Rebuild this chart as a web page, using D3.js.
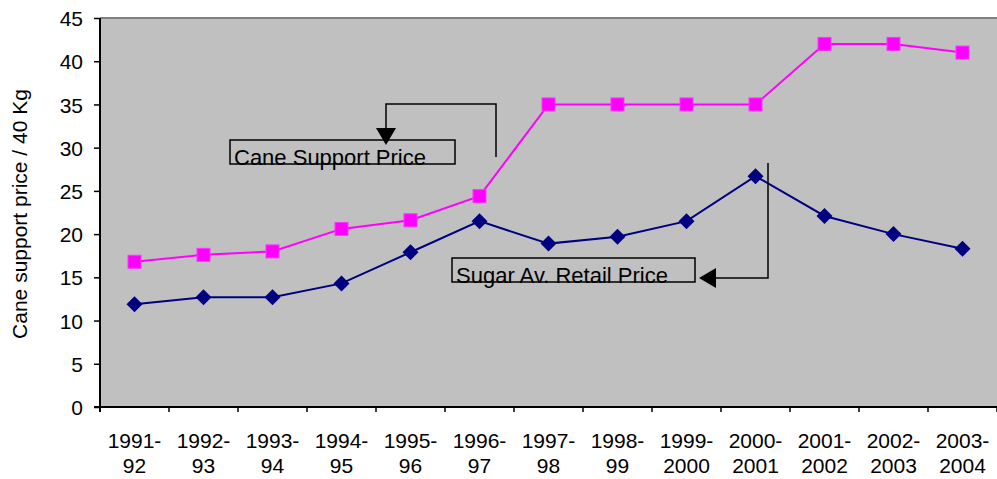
<!DOCTYPE html>
<html><head><meta charset="utf-8">
<script src="https://cdn.jsdelivr.net/npm/d3@7"></script>
<style>body{margin:0;background:#fff}svg{display:block}text{font-family:"Liberation Sans",Arial,sans-serif}</style>
</head><body><svg id="c" width="997" height="479"></svg>
<script>
const categories = ["1991-92","1992-93","1993-94","1994-95","1995-96","1996-97","1997-98","1998-99","1999-2000","2000-2001","2001-2002","2002-2003","2003-2004"];
const catLine1 = ["1991-","1992-","1993-","1994-","1995-","1996-","1997-","1998-","1999-","2000-","2001-","2002-","2003-"];
const catLine2 = ["92","93","94","95","96","97","98","99","2000","2001","2002","2003","2004"];
const caneSupport = [16.8,17.6,18.0,20.6,21.6,24.4,35,35,35,35,42,42,41];
const sugarRetail = [11.9,12.7,12.7,14.3,17.9,21.5,18.9,19.7,21.5,26.7,22.1,20.0,18.3];
const yTicks = [0,5,10,15,20,25,30,35,40,45];

const svg = d3.select("#c");
const L=100, R=997, T=18, B=407;
const FS=21;
const x = d3.scaleBand().domain(categories).range([L,R]);
const y = d3.scaleLinear().domain([0,45]).range([B,T]);

svg.append("rect").attr("x",L).attr("y",T).attr("width",R-L).attr("height",B-T).attr("fill","#c0c0c0");
svg.append("line").attr("x1",L).attr("x2",R).attr("y1",T).attr("y2",T).attr("stroke","#808080").attr("stroke-width",2);

// y axis
const ya = svg.append("g").attr("transform",`translate(${L},0)`)
  .call(d3.axisLeft(y).tickValues(yTicks).tickSize(6).tickPadding(11));
ya.attr("font-size",FS).attr("font-family",null);
ya.select(".domain").attr("stroke","#000").attr("stroke-width",2).attr("d",`M0,${T}V${B+5}`);
ya.selectAll(".tick line").attr("stroke","#000").attr("stroke-width",1.5);
ya.selectAll(".tick text").attr("fill","#000").attr("dy","0.36em");

// x axis
const xa = svg.append("g").attr("transform",`translate(0,${B})`);
xa.append("line").attr("x1",L-6).attr("x2",R).attr("stroke","#000").attr("stroke-width",2);
const tickXs = categories.map(c=>x(c)).concat([R]);
xa.selectAll("line.t").data(tickXs).enter().append("line").attr("class","t")
  .attr("x1",d=>d).attr("x2",d=>d).attr("y1",0).attr("y2",5).attr("stroke","#000").attr("stroke-width",1.5);
const lab = xa.selectAll("text.l").data(categories).enter().append("text")
  .attr("x",d=>x(d)+x.bandwidth()/2).attr("text-anchor","middle").attr("font-size",FS).attr("fill","#000");
lab.append("tspan").attr("x",d=>x(d)+x.bandwidth()/2).attr("y",41).text((d,i)=>catLine1[i]);
lab.append("tspan").attr("x",d=>x(d)+x.bandwidth()/2).attr("y",66).text((d,i)=>catLine2[i]);

// y label
svg.append("text").attr("transform","translate(27,214) rotate(-90)").attr("text-anchor","middle")
  .attr("font-size",FS).attr("fill","#000").text("Cane support price / 40 Kg");

const cx = d=>x(d)+x.bandwidth()/2;
const line = d3.line().x((d,i)=>cx(categories[i])).y(d=>y(d));

svg.append("path").datum(caneSupport).attr("d",line).attr("fill","none").attr("stroke","#ff00ff").attr("stroke-width",2);
svg.append("path").datum(sugarRetail).attr("d",line).attr("fill","none").attr("stroke","#000080").attr("stroke-width",2);

svg.selectAll("rect.sq").data(caneSupport).enter().append("rect").attr("class","sq")
  .attr("x",(d,i)=>cx(categories[i])-6.5).attr("y",d=>y(d)-6.5).attr("width",13).attr("height",13)
  .attr("fill","#ff00ff").attr("stroke","#ff33ff").attr("stroke-width",1);
svg.selectAll("path.dm").data(sugarRetail).enter().append("path").attr("class","dm")
  .attr("transform",(d,i)=>`translate(${cx(categories[i])},${y(d)})`)
  .attr("d","M0,-8L8,0L0,8L-8,0Z").attr("fill","#000080");

// annotations
function box(x0,y0,w,h,txt){
  svg.append("text").attr("x",x0+4).attr("y",y0+h+1).attr("font-size",22).attr("fill","#000").text(txt);
  svg.append("rect").attr("x",x0).attr("y",y0).attr("width",w).attr("height",h).attr("fill","none").attr("stroke","#000").attr("stroke-width",1.5);
}
box(230,140,225,24,"Cane Support Price");
box(452,258,243,24,"Sugar Av. Retail Price");
svg.append("path").attr("d","M496,157V104H386V132").attr("fill","none").attr("stroke","#000").attr("stroke-width",1.5);
svg.append("path").attr("d","M376,128L396,128L386,145Z").attr("fill","#000");
svg.append("path").attr("d","M768,163V278H712").attr("fill","none").attr("stroke","#000").attr("stroke-width",1.5);
svg.append("path").attr("d","M699,278L716,268L716,288Z").attr("fill","#000");
</script></body></html>
